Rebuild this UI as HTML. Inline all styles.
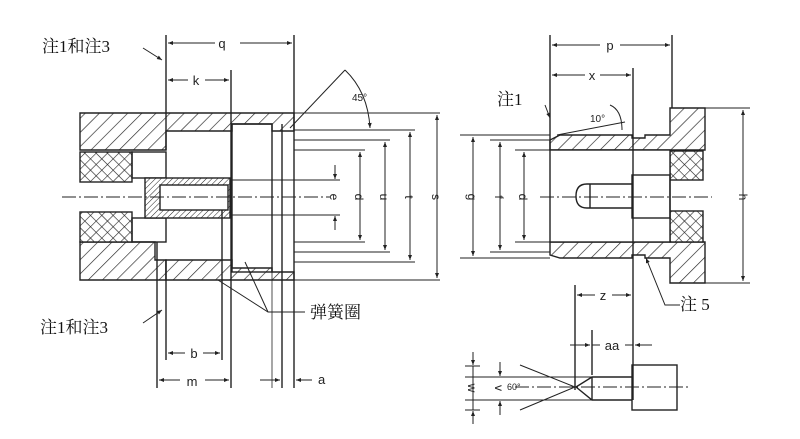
<!DOCTYPE html>
<html><head><meta charset="utf-8"><style>
html,body{margin:0;padding:0;background:#fff}
svg{display:block}
text{font-family:"Liberation Sans",sans-serif;fill:#222}
.cn{font-family:"Liberation Serif","Noto Serif CJK SC",serif;font-size:17px;fill:#111}
</style></head><body>
<svg width="800" height="439" viewBox="0 0 800 439" xmlns="http://www.w3.org/2000/svg">
<defs>
<pattern id="h" width="10" height="10" patternUnits="userSpaceOnUse" patternTransform="rotate(45)">
<rect width="10" height="10" fill="#fff"/><line x1="0" y1="0" x2="0" y2="10" stroke="#222" stroke-width="1.3"/></pattern>
<pattern id="hs" width="4" height="4" patternUnits="userSpaceOnUse" patternTransform="rotate(45)">
<rect width="4" height="4" fill="#fff"/><line x1="0" y1="0" x2="0" y2="4" stroke="#222" stroke-width="1"/></pattern>
<pattern id="x" width="8" height="8" patternUnits="userSpaceOnUse" patternTransform="rotate(45)">
<rect width="8" height="8" fill="#fff"/><path d="M0 0V8M0 0H8" stroke="#222" stroke-width="1.2"/></pattern>
<marker id="a" viewBox="0 0 10 10" refX="10" refY="5" markerWidth="7" markerHeight="5" orient="auto-start-reverse"><path d="M0 1L10 5L0 9z" fill="#222"/></marker>
</defs>
<g stroke="#222" stroke-width="1.4" fill="none">
<path d="M80 113H294V131H272V124H232V131H166V150H80Z" fill="url(#h)"/>
<path d="M80 242H155V260H166V280H80Z" fill="url(#h)"/>
<path d="M166 260H232V268H272V272H294V280H166Z" fill="url(#h)"/>
<rect x="80" y="152" width="52" height="30" fill="url(#x)"/>
<rect x="80" y="212" width="52" height="30" fill="url(#x)"/>
<rect x="132" y="152" width="34" height="26"/>
<rect x="132" y="218" width="34" height="24"/>
<rect x="145" y="178" width="85" height="40" fill="url(#hs)"/>
<rect x="160" y="185" width="68" height="25" fill="#fff"/>
<rect x="232" y="124" width="40" height="148"/>
<line x1="282" y1="124" x2="282" y2="272"/>
<line x1="166" y1="35" x2="166" y2="150"/>
<line x1="157" y1="242" x2="157" y2="388"/>
<line x1="166" y1="260" x2="166" y2="360"/>
<line x1="222" y1="210" x2="222" y2="360"/>
<line x1="231" y1="70" x2="231" y2="388"/>
<line x1="294" y1="35" x2="294" y2="388"/>
<line x1="282" y1="272" x2="282" y2="388"/>
<line x1="272" y1="272" x2="272" y2="388" stroke-width="0.8"/>
<g stroke-width="1">
<line x1="294" y1="113" x2="440" y2="113"/><line x1="294" y1="280" x2="440" y2="280"/>
<line x1="294" y1="130" x2="415" y2="130"/><line x1="294" y1="262" x2="415" y2="262"/>
<line x1="294" y1="140" x2="390" y2="140"/><line x1="294" y1="252" x2="390" y2="252"/>
<line x1="294" y1="150" x2="365" y2="150"/><line x1="294" y1="242" x2="365" y2="242"/>
<line x1="230" y1="180" x2="340" y2="180"/><line x1="230" y1="215" x2="340" y2="215"/>
</g>
<line x1="62" y1="197" x2="330" y2="197" stroke-dasharray="14 3 2 3" stroke-width="1"/>
<g stroke-width="1" marker-end="url(#a)" marker-start="url(#a)">
<line x1="360" y1="152" x2="360" y2="240"/>
<line x1="385" y1="142" x2="385" y2="250"/>
<line x1="410" y1="132" x2="410" y2="260"/>
<line x1="437" y1="115" x2="437" y2="278"/>
</g>
<line x1="335" y1="165" x2="335" y2="179" stroke-width="1" marker-end="url(#a)"/>
<line x1="335" y1="230" x2="335" y2="216" stroke-width="1" marker-end="url(#a)"/>
<g stroke-width="1">
<line x1="168" y1="43" x2="215" y2="43" marker-start="url(#a)"/><line x1="240" y1="43" x2="292" y2="43" marker-end="url(#a)"/>
<line x1="168" y1="80" x2="188" y2="80" marker-start="url(#a)"/><line x1="205" y1="80" x2="229" y2="80" marker-end="url(#a)"/>
<line x1="168" y1="353" x2="185" y2="353" marker-start="url(#a)"/><line x1="203" y1="353" x2="220" y2="353" marker-end="url(#a)"/>
<line x1="159" y1="380" x2="180" y2="380" marker-start="url(#a)"/><line x1="205" y1="380" x2="229" y2="380" marker-end="url(#a)"/>
<line x1="260" y1="380" x2="280" y2="380" marker-end="url(#a)"/>
<line x1="312" y1="380" x2="296" y2="380" marker-end="url(#a)"/>
<line x1="290" y1="128" x2="345" y2="70"/>
<path d="M345 70Q368 92 370 128" marker-end="url(#a)"/>
<line x1="143" y1="48" x2="162" y2="60" marker-end="url(#a)"/>
<line x1="143" y1="323" x2="162" y2="310" marker-end="url(#a)"/>
<path d="M305 312H268L218 280" /><path d="M268 312L245 262"/>
</g>
<path d="M550 150V140L560 135H632V138H645V135H670V108H705V150Z" fill="url(#h)"/>
<path d="M550 242V255L560 258H632V255H645V258H670V283H705V242Z" fill="url(#h)"/>
<rect x="670" y="151" width="33" height="29" fill="url(#x)"/>
<rect x="670" y="211" width="33" height="31" fill="url(#x)"/>
<rect x="550" y="150" width="120" height="92" fill="#fff"/>
<rect x="632" y="175" width="38" height="43"/>
<path d="M632 184H587Q576 184 576 196Q576 208 587 208H632"/>
<line x1="590" y1="184" x2="590" y2="208"/>
<line x1="550" y1="35" x2="550" y2="150"/>
<line x1="672" y1="35" x2="672" y2="108"/>
<line x1="633" y1="68" x2="633" y2="400"/>
<line x1="575" y1="285" x2="575" y2="390"/>
<line x1="592" y1="330" x2="592" y2="375"/>
<g stroke-width="1">
<line x1="460" y1="135" x2="550" y2="135"/><line x1="460" y1="258" x2="550" y2="258"/>
<line x1="490" y1="140" x2="550" y2="140"/><line x1="490" y1="252" x2="550" y2="252"/>
<line x1="515" y1="150" x2="550" y2="150"/><line x1="515" y1="242" x2="550" y2="242"/>
<line x1="705" y1="108" x2="750" y2="108"/><line x1="705" y1="283" x2="750" y2="283"/>
</g>
<line x1="540" y1="197" x2="712" y2="197" stroke-dasharray="14 3 2 3" stroke-width="1"/>
<g stroke-width="1" marker-end="url(#a)" marker-start="url(#a)">
<line x1="473" y1="137" x2="473" y2="256"/>
<line x1="500" y1="142" x2="500" y2="250"/>
<line x1="524" y1="152" x2="524" y2="240"/>
<line x1="743" y1="110" x2="743" y2="281"/>
</g>
<g stroke-width="1">
<line x1="552" y1="45" x2="600" y2="45" marker-start="url(#a)"/><line x1="620" y1="45" x2="670" y2="45" marker-end="url(#a)"/>
<line x1="552" y1="75" x2="585" y2="75" marker-start="url(#a)"/><line x1="600" y1="75" x2="631" y2="75" marker-end="url(#a)"/>
<line x1="577" y1="295" x2="595" y2="295" marker-start="url(#a)"/><line x1="612" y1="295" x2="631" y2="295" marker-end="url(#a)"/>
<line x1="570" y1="345" x2="590" y2="345" marker-end="url(#a)"/><line x1="652" y1="345" x2="635" y2="345" marker-end="url(#a)"/>
<line x1="592" y1="345" x2="600" y2="345"/><line x1="625" y1="345" x2="633" y2="345"/>
<line x1="557" y1="135" x2="625" y2="122"/>
<path d="M610 105Q622 110 622 130"/>
<line x1="545" y1="105" x2="550" y2="118" marker-end="url(#a)"/>
<path d="M680 305H665L646 258" marker-end="url(#a)"/>
</g>
<rect x="632" y="365" width="45" height="45"/>
<path d="M632 377H592L576 387L592 400H632"/>
<line x1="592" y1="377" x2="592" y2="400"/>
<line x1="515" y1="387" x2="688" y2="387" stroke-dasharray="14 3 2 3" stroke-width="1"/>
<g stroke-width="1">
<path d="M520 365L575 387L520 410"/>
<line x1="465" y1="377" x2="600" y2="377"/><line x1="465" y1="400" x2="600" y2="400"/>
<line x1="465" y1="366" x2="480" y2="366"/><line x1="465" y1="410" x2="480" y2="410"/>
<line x1="473" y1="352" x2="473" y2="365" marker-end="url(#a)"/><line x1="473" y1="424" x2="473" y2="411" marker-end="url(#a)"/>
<line x1="500" y1="362" x2="500" y2="376" marker-end="url(#a)"/><line x1="500" y1="415" x2="500" y2="401" marker-end="url(#a)"/>
<line x1="473" y1="366" x2="473" y2="410"/>
</g>
</g>
<g font-size="13">
<text x="222" y="48" text-anchor="middle">q</text>
<text x="196" y="85" text-anchor="middle">k</text>
<text x="194" y="358" text-anchor="middle">b</text>
<text x="192" y="386" text-anchor="middle">m</text>
<text x="318" y="384">a</text>
<text x="610" y="50" text-anchor="middle">p</text>
<text x="592" y="80" text-anchor="middle">x</text>
<text x="603" y="300" text-anchor="middle">z</text>
<text x="612" y="350" text-anchor="middle">aa</text>
<text x="352" y="101" font-size="10">45°</text>
<text x="590" y="122" font-size="10">10°</text>
<text x="507" y="390" font-size="9">60°</text>
<g font-size="12">
<text transform="translate(330,197) rotate(90)" text-anchor="middle">e</text>
<text transform="translate(355,197) rotate(90)" text-anchor="middle">d</text>
<text transform="translate(380,197) rotate(90)" text-anchor="middle">u</text>
<text transform="translate(405,197) rotate(90)" text-anchor="middle">t</text>
<text transform="translate(432,197) rotate(90)" text-anchor="middle">s</text>
<text transform="translate(468,197) rotate(90)" text-anchor="middle">g</text>
<text transform="translate(495,197) rotate(90)" text-anchor="middle">f</text>
<text transform="translate(519,197) rotate(90)" text-anchor="middle">d</text>
<text transform="translate(739,197) rotate(90)" text-anchor="middle">h</text>
<text transform="translate(468,388) rotate(90)" text-anchor="middle">w</text>
<text transform="translate(495,388) rotate(90)" text-anchor="middle">v</text>
</g>
</g>
<text class="cn" x="42" y="52">注1和注3</text>
<text class="cn" x="40" y="333">注1和注3</text>
<text class="cn" x="310" y="318">弹簧圈</text>
<text class="cn" x="497" y="105">注1</text>
<text class="cn" x="680" y="310">注 5</text>
</svg>
</body></html>
